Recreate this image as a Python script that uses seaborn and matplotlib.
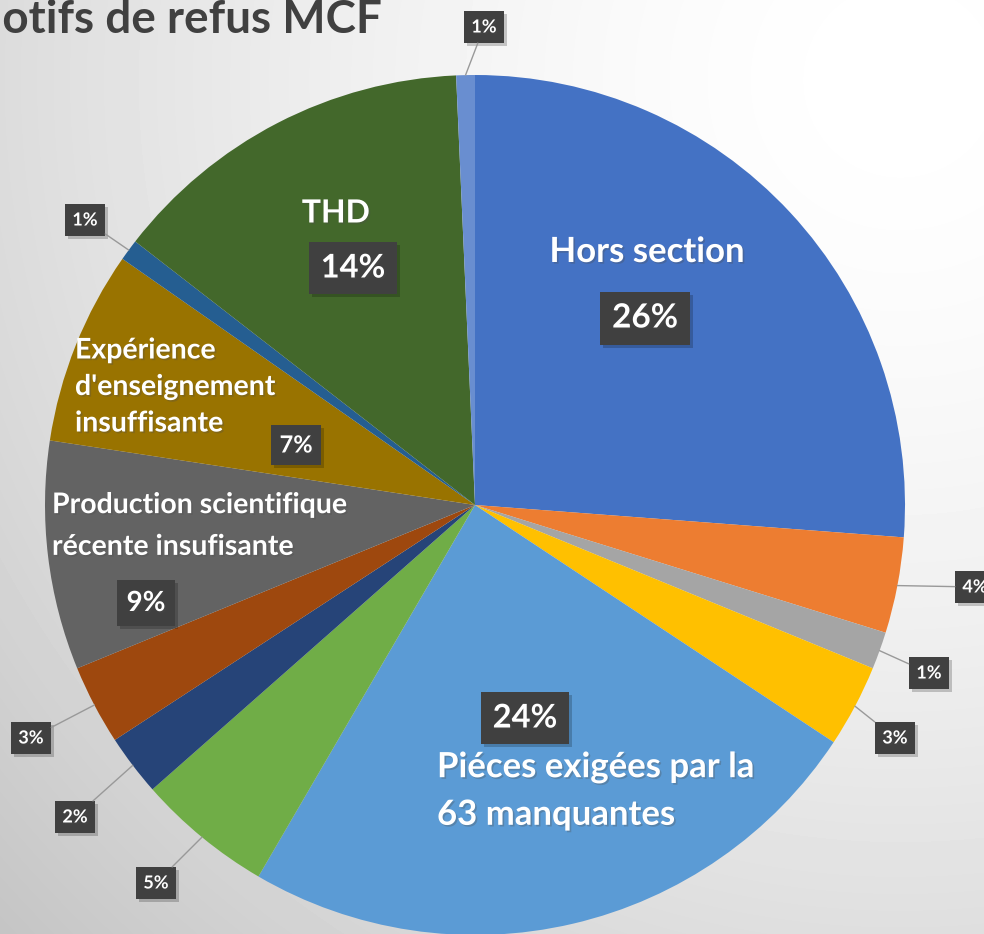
import numpy as np
import matplotlib
matplotlib.use("Agg")
import matplotlib.pyplot as plt
import matplotlib.transforms as mtransforms
import matplotlib.patheffects as pe
import seaborn as sns

# données (ordre horaire depuis midi)
values = [26.2, 3.6, 1.4, 3.1, 24.1, 5.1, 2.3, 3.0, 8.6, 7.3, 0.8, 13.8, 0.7]
names = ["Hors section", "", "", "", "Piéces exigées par la\n63 manquantes",
         "", "", "", "Production scientifique\nrécente insufisante",
         "Expérience\nd'enseignement\ninsuffisante", "", "THD", ""]
colors = ["#4472C4", "#ED7D31", "#A5A5A5", "#FFC000", "#5B9BD5", "#70AD47",
          "#264478", "#9E480E", "#636363", "#997300", "#255E91", "#43682B",
          "#698ED0"]
title = "Motifs de refus MCF"

sns.set_theme(style="white")
plt.rcParams["font.family"] = ["Lato", "DejaVu Sans"]

W, H = 984, 934
fig = plt.figure(figsize=(W / 100, H / 100), dpi=100)

# fond en dégradé radial
bg = fig.add_axes([0, 0, 1, 1])
yy, xx = np.mgrid[0:H, 0:W]
d = np.hypot(xx - 900, yy - 80)
shade = 255 - 52 * (d / 1150) ** 1.6
bg.imshow(shade, cmap="gray", vmin=0, vmax=255, aspect="auto", extent=(0, W, H, 0))
bg.axis("off")

cx, cy, r = 475, 505, 430
ax = fig.add_axes([(cx - r) / W, (H - cy - r) / H, 2 * r / W, 2 * r / H])
wedges, _ = ax.pie(values, colors=colors, startangle=90, counterclock=False,
                   wedgeprops=dict(linewidth=0))
ax.set_xlim(-1, 1)
ax.set_ylim(-1, 1)
ax.axis("off")

total = sum(values)
pcts = [f"{round(v / total * 100):.0f}%" for v in values]

dark = "#404040"
txt_fx = [pe.SimplePatchShadow(offset=(1.2, -1.2), alpha=0.3), pe.Normal()]

def px(x, y):
    return ((x - cx) / r, (cy - y) / r)

def boxed(x, y, s, size, pad):
    shadow = mtransforms.offset_copy(ax.transData, fig=fig, x=3, y=-3, units="dots")
    ax.text(x, y, s, fontsize=size, fontweight="bold", color="none",
            ha="center", va="center", transform=shadow,
            bbox=dict(boxstyle=f"square,pad={pad}", fc="black", ec="none", alpha=0.2))
    return ax.text(x, y, s, fontsize=size, fontweight="bold", color="white",
                   ha="center", va="center", path_effects=txt_fx,
                   bbox=dict(boxstyle=f"square,pad={pad}", fc=dark, ec="none"))

# étiquettes intérieures : nom xy, alignement, taille, interligne, pourcentage xy, taille
inner = {
    0: ((647, 252), "center", 25, 1.4, (645, 318), 24),
    4: ((437, 791), "left", 25, 1.6, (525, 718), 23.5),
    8: ((52, 526), "left", 20.5, 1.75, (146, 603), 20),
    9: ((75, 387), "left", 20.5, 1.5, (296, 445), 17),
    11: ((336, 213), "center", 23, 1.4, (353, 268), 23.5),
}
for i, (npos, ha, nsize, lsp, ppos, psize) in inner.items():
    x, y = px(*npos)
    ax.text(x, y, names[i], fontsize=nsize, fontweight="bold", color="white",
            ha=ha, va="center", linespacing=lsp, path_effects=txt_fx)
    x, y = px(*ppos)
    boxed(x, y, pcts[i], psize, 0.36)

# étiquettes extérieures avec ligne de rappel
outer = {1: (975, 587), 2: (929, 673), 3: (895, 738), 7: (31, 738),
         6: (75, 817), 5: (156, 883), 10: (85, 220), 12: (484, 27)}
for i, bpos in outer.items():
    w = wedges[i]
    mid = np.deg2rad((w.theta1 + w.theta2) / 2)
    ex, ey = np.cos(mid), np.sin(mid)
    bx, by = px(*bpos)
    t = boxed(bx, by, pcts[i], 13, 0.42)
    ax.annotate("", xy=(ex, ey), xytext=(bx, by),
                arrowprops=dict(arrowstyle="-", color="#999999", lw=1,
                                patchA=t.get_bbox_patch(), shrinkA=0, shrinkB=0))

fig.text(382 / W, 1 - 33 / H, title, fontsize=33, fontweight="bold",
         color=dark, ha="right", va="baseline")

fig.savefig("out.png", dpi=100)
